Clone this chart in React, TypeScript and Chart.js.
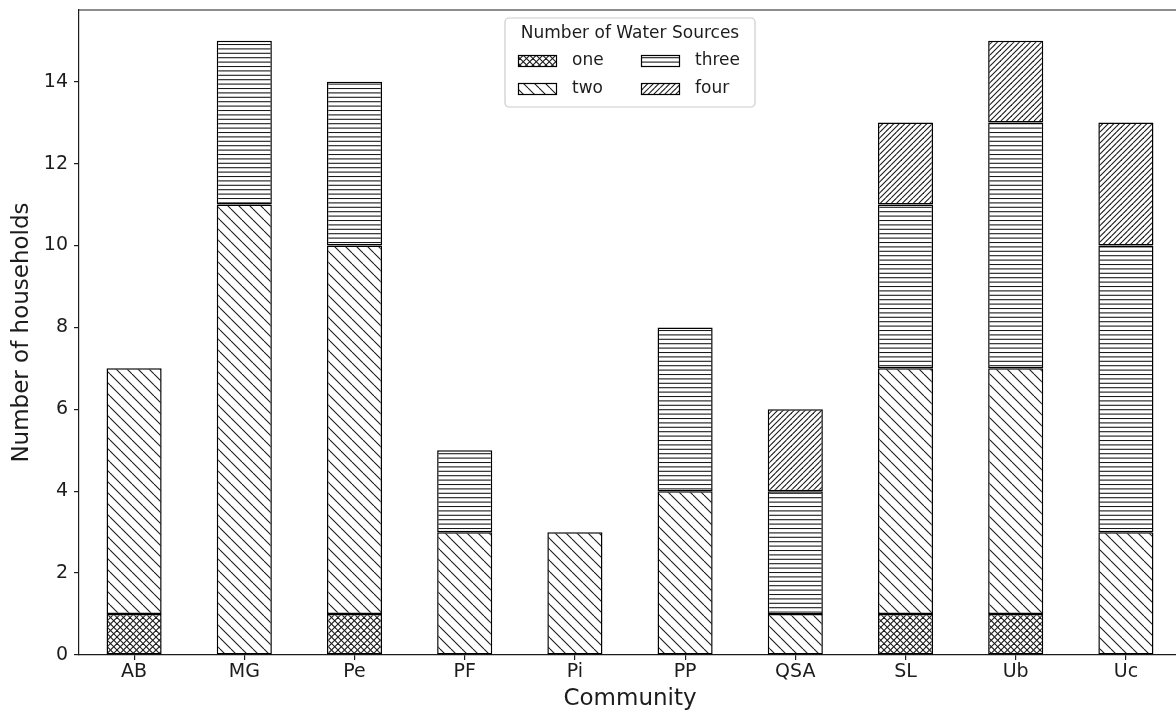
import React, { useEffect, useRef } from 'react';
import { Chart, registerables } from 'chart.js';

Chart.register(...registerables);

const communities = ['AB', 'MG', 'Pe', 'PF', 'Pi', 'PP', 'QSA', 'SL', 'Ub', 'Uc'];
const oneSource = [1, 0, 1, 0, 0, 0, 0, 1, 1, 0];
const twoSources = [6, 11, 9, 3, 3, 4, 1, 6, 6, 3];
const threeSources = [0, 4, 4, 2, 0, 4, 3, 4, 6, 7];
const fourSources = [0, 0, 0, 0, 0, 0, 2, 2, 2, 3];
const seriesLabels = ['one', 'two', 'three', 'four'];
const yTicks = [0, 2, 4, 6, 8, 10, 12, 14];
const yMax = 15.75;
const legendTitle = 'Number of Water Sources';
const xTitle = 'Community';
const yTitle = 'Number of households';

const FONT = '"DejaVu Sans", sans-serif';
const INK = '#1c1c1c';

function makePattern(kind: string): CanvasPattern {
  const c = document.createElement('canvas');
  const w = kind === 'three' ? 22 : kind === 'one' ? 13 : 11;
  const h = w;
  c.width = w;
  c.height = h;
  const ctx = c.getContext('2d')!;
  ctx.fillStyle = '#fff';
  ctx.fillRect(0, 0, w, h);
  ctx.strokeStyle = '#1a1a1a';
  ctx.lineWidth = 1.1;
  const line = (x1: number, y1: number, x2: number, y2: number) => {
    ctx.beginPath();
    ctx.moveTo(x1, y1);
    ctx.lineTo(x2, y2);
    ctx.stroke();
  };
  if (kind === 'one') {
    for (const o of [-13, -6.5, 0, 6.5, 13]) {
      line(o, 0, o + 13, 13);
      line(o, 13, o + 13, 0);
    }
  } else if (kind === 'two') {
    for (const o of [-11, 0, 11]) line(o, 0, o + 11, 11);
  } else if (kind === 'four') {
    for (const o of [-11, -5.5, 0, 5.5, 11]) line(o, 11, o + 11, 0);
  } else {
    for (let i = 0; i < 5; i++) {
      const y = i * 4.4 + 0.5;
      line(0, y, w, y);
    }
  }
  return ctx.createPattern(c, 'repeat')!;
}

export default function App() {
  const ref = useRef<HTMLCanvasElement>(null);

  useEffect(() => {
    document.body.style.margin = '0';
    const patterns = seriesLabels.map((k) => makePattern(k));
    const series = [oneSource, twoSources, threeSources, fourSources];

    const framePlugin = {
      id: 'frame',
      afterDraw(chart: any) {
        const { ctx, chartArea } = chart;
        ctx.save();
        ctx.strokeStyle = INK;
        ctx.lineWidth = 1.2;
        ctx.beginPath();
        ctx.moveTo(chartArea.left, chartArea.top);
        ctx.lineTo(chartArea.right, chartArea.top);
        ctx.lineTo(chartArea.right, chartArea.bottom);
        ctx.stroke();
        ctx.restore();
      },
    };

    const legendPlugin = {
      id: 'hatchLegend',
      afterDraw(chart: any) {
        const { ctx, chartArea } = chart;
        const w = 250;
        const h = 89;
        const left = Math.round((chartArea.left + chartArea.right) / 2 - w / 2);
        const top = chartArea.top + 8;
        ctx.save();
        const r = 4;
        ctx.beginPath();
        ctx.moveTo(left + r, top);
        ctx.lineTo(left + w - r, top);
        ctx.arcTo(left + w, top, left + w, top + r, r);
        ctx.lineTo(left + w, top + h - r);
        ctx.arcTo(left + w, top + h, left + w - r, top + h, r);
        ctx.lineTo(left + r, top + h);
        ctx.arcTo(left, top + h, left, top + h - r, r);
        ctx.lineTo(left, top + r);
        ctx.arcTo(left, top, left + r, top, r);
        ctx.closePath();
        ctx.fillStyle = 'rgba(255,255,255,0.8)';
        ctx.fill();
        ctx.strokeStyle = '#ccc';
        ctx.lineWidth = 1.2;
        ctx.stroke();

        ctx.fillStyle = INK;
        ctx.font = `17px ${FONT}`;
        ctx.textAlign = 'center';
        ctx.textBaseline = 'middle';
        ctx.fillText(legendTitle, left + w / 2, top + 16);

        const pos = [
          [13, 43],
          [13, 71],
          [136, 43],
          [136, 71],
        ];
        seriesLabels.forEach((lab, i) => {
          const [cx, cy] = pos[i];
          const hx = left + cx;
          const hy = top + cy - 6;
          ctx.fillStyle = patterns[i];
          ctx.fillRect(hx, hy, 39, 12);
          ctx.strokeStyle = '#000';
          ctx.lineWidth = 1.2;
          ctx.strokeRect(hx + 0.5, hy + 0.5, 38, 11);
          ctx.fillStyle = INK;
          ctx.textAlign = 'left';
          ctx.fillText(lab, hx + 54, top + cy);
        });
        ctx.restore();
      },
    };

    const axisCommon = {
      stacked: true,
      grid: {
        display: true,
        drawOnChartArea: false,
        drawTicks: true,
        tickLength: 5,
        color: INK,
        lineWidth: 1.2,
      },
      border: { display: true, color: INK, width: 1.2 },
    };

    const chart = new Chart(ref.current!, {
      type: 'bar',
      data: {
        labels: communities,
        datasets: series.map((d, i) => ({
          label: seriesLabels[i],
          data: d,
          backgroundColor: patterns[i],
          borderColor: '#000',
          borderWidth: 1.5,
          borderSkipped: false,
          categoryPercentage: 1,
          barPercentage: 0.5,
        })),
      },
      options: {
        responsive: false,
        animation: false,
        devicePixelRatio: 1,
        layout: { padding: { top: 10, right: 1, left: 0, bottom: 0 } },
        plugins: {
          legend: { display: false },
          tooltip: { enabled: false },
        },
        scales: {
          x: {
            ...axisCommon,
            offset: true,
            grid: { ...axisCommon.grid, offset: false },
            ticks: {
              color: INK,
              font: { family: FONT, size: 19 },
              padding: 1,
              maxRotation: 0,
              autoSkip: false,
            },
            title: {
              display: true,
              text: xTitle,
              color: INK,
              font: { family: FONT, size: 23 },
              padding: { top: 0, bottom: 2 },
            },
            afterFit: (s: any) => {
              s.height = 60;
              s.paddingLeft = 0;
              s.paddingRight = 0;
            },
          },
          y: {
            ...axisCommon,
            min: 0,
            max: yMax,
            afterBuildTicks: (s: any) => {
              s.ticks = yTicks.map((v) => ({ value: v }));
            },
            ticks: {
              color: INK,
              font: { family: FONT, size: 19 },
              padding: 6,
            },
            title: {
              display: true,
              text: yTitle,
              color: INK,
              font: { family: FONT, size: 23 },
              padding: { top: 8, bottom: 0 },
            },
            afterFit: (s: any) => {
              s.width = 79;
              s.paddingTop = 0;
              s.paddingBottom = 0;
            },
          },
        },
      } as any,
      plugins: [framePlugin, legendPlugin],
    });
    return () => chart.destroy();
  }, []);

  return (
    <div
      style={{
        position: 'fixed',
        left: 0,
        top: 0,
        width: 1176,
        height: 715,
        overflow: 'hidden',
        background: '#fff',
      }}
    >
      <canvas
        ref={ref}
        width={1182}
        height={715}
        style={{ display: 'block', width: 1182, height: 715 }}
      />
    </div>
  );
}
